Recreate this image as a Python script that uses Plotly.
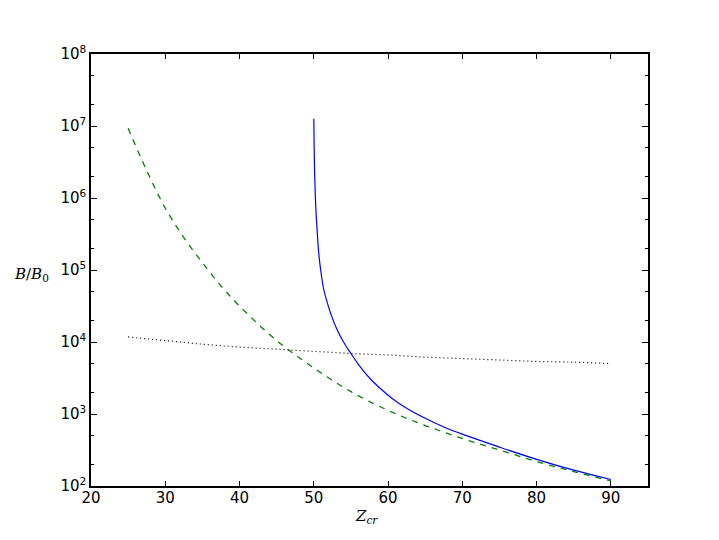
import plotly.graph_objects as go

# values (log10 of B/B0)
z_blue = [50.0, 50.05, 50.1, 50.2, 50.3, 50.45, 50.65, 50.9, 51.3, 51.8, 52.4, 53.1, 54.0,
          55.0, 56.0, 57.5, 59.0, 60.5, 62.5, 65.0, 67.5, 70.0, 75.0, 80.0, 85.0, 90.0]
logb_blue = [7.10, 6.70, 6.40, 6.05, 5.80, 5.55, 5.25, 5.02, 4.75, 4.55, 4.36, 4.18, 4.00,
             3.84, 3.69, 3.50, 3.35, 3.22, 3.08, 2.94, 2.82, 2.72, 2.54, 2.37, 2.22, 2.09]

z_green = [25, 27.5, 30, 32.5, 35, 37.5, 40, 45, 50, 55, 60, 65, 70, 75, 80, 85, 90]
logb_green = [6.97, 6.38, 5.86, 5.45, 5.10, 4.78, 4.50, 4.02, 3.64, 3.31, 3.05, 2.84,
              2.66, 2.50, 2.34, 2.20, 2.07]

z_black = [25, 30, 35, 40, 45, 50, 55, 60, 65, 70, 75, 80, 85, 90]
logb_black = [4.07, 4.02, 3.97, 3.93, 3.90, 3.87, 3.84, 3.82, 3.79, 3.77, 3.75, 3.73,
              3.72, 3.70]

y_ticks = [2, 3, 4, 5, 6, 7, 8]

fig = go.Figure()
fig.add_trace(go.Scatter(x=z_blue, y=[10 ** v for v in logb_blue], mode="lines",
                         line=dict(color="#0000ff", width=1.2), line_shape="spline"))
fig.add_trace(go.Scatter(x=z_green, y=[10 ** v for v in logb_green], mode="lines",
                         line=dict(color="#008000", width=1.3, dash="6px,6px"),
                         line_shape="spline"))
fig.add_trace(go.Scatter(x=z_black, y=[10 ** v for v in logb_black], mode="lines",
                         line=dict(color="black", width=1.2, dash="1px,3px"),
                         line_shape="spline"))

axis_font = dict(family="DejaVu Sans", size=15, color="black")
fig.update_xaxes(range=[20, 95], tick0=20, dtick=10, ticks="inside", ticklen=5,
                 tickcolor="black", showline=True, linecolor="black", linewidth=1.5,
                 mirror="allticks", showgrid=False, zeroline=False, tickfont=axis_font,
                 ticklabelstandoff=-3)
fig.update_yaxes(type="log", range=[2, 8], tickvals=[10 ** v for v in y_ticks],
                 ticktext=["10<sup>%d</sup>" % v for v in y_ticks],
                 ticks="inside", ticklen=6, tickcolor="black", showline=True,
                 linecolor="black", linewidth=1.5, mirror="allticks", showgrid=False,
                 zeroline=False, tickfont=axis_font,
                 minor=dict(ticks="inside", ticklen=3, tickcolor="black", showgrid=False))

label_font = dict(family="DejaVu Serif", size=15, color="black")
fig.add_annotation(text="<i>B</i>/<i>B</i><sub>0</sub>", x=-0.106, y=0.49,
                   xanchor="center", yanchor="middle",
                   xref="paper", yref="paper", showarrow=False, font=label_font)
fig.add_annotation(text="<i>Z</i><sub><i>cr</i></sub>", x=0.495, y=-0.07,
                   xanchor="center", yanchor="middle",
                   xref="paper", yref="paper", showarrow=False, font=label_font)

# the page body adds 8px round the figure
fig.update_layout(width=719, height=540, showlegend=False,
                  plot_bgcolor="white", paper_bgcolor="white",
                  margin=dict(l=83, r=79, t=46, b=62))

fig.write_html("out.html")
